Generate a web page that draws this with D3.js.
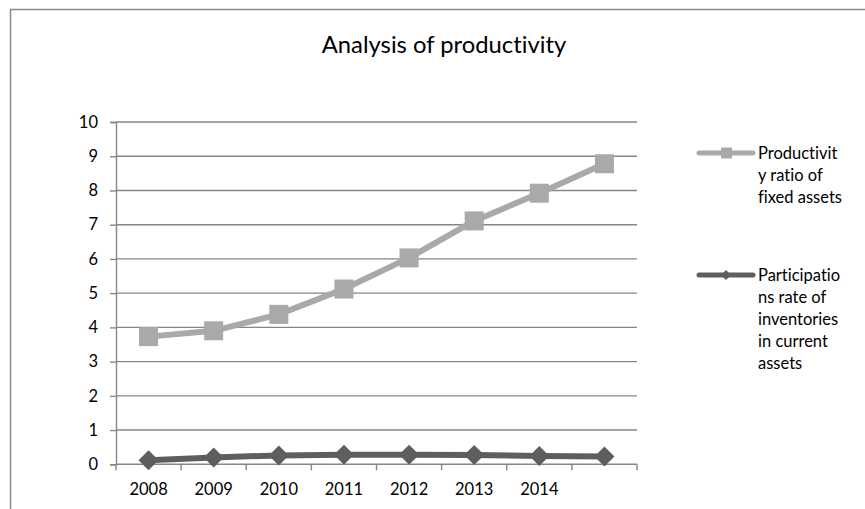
<!DOCTYPE html>
<html lang="en">
<head>
<meta charset="utf-8">
<title>Analysis of productivity</title>
<script src="https://cdn.jsdelivr.net/npm/d3@7"></script>
<style>
  body { margin: 0; background: #fff; }
  svg { display: block; font-family: Lato, "Open Sans", sans-serif; font-variant-ligatures: none; }
</style>
</head>
<body>
<svg id="chart" width="865" height="509"></svg>
<script>
// chart values
var years = ["2008", "2009", "2010", "2011", "2012", "2013", "2014", ""];
var productivity = [3.73, 3.9, 4.38, 5.12, 6.03, 7.11, 7.92, 8.78];
var participation = [0.12, 0.2, 0.26, 0.28, 0.28, 0.27, 0.24, 0.23];
var yTicks = [0, 1, 2, 3, 4, 5, 6, 7, 8, 9, 10];
var seriesNames = [
  ["Productivit", "y ratio of", "fixed assets"],
  ["Participatio", "ns rate of", "inventories", "in current", "assets"]
];

var svg = d3.select("#chart");
var margin = {left: 116, right: 637, top: 122, bottom: 464.3};

// frame (only left and top edges show in the crop)
svg.append("path")
  .attr("d", "M10.5,509 V9.5 H865")
  .attr("fill", "none")
  .attr("stroke", "#8a8a8a")
  .attr("stroke-width", 1.5);

svg.append("text")
  .attr("x", 444).attr("y", 53)
  .attr("text-anchor", "middle")
  .attr("font-size", 23.8)
  .attr("fill", "#000")
  .text("Analysis of productivity");

var x = d3.scaleBand().domain(d3.range(years.length)).range([margin.left, margin.right]);
var y = d3.scaleLinear().domain([0, 10]).range([margin.bottom, margin.top]);

// gridlines
svg.append("g").selectAll("line")
  .data(yTicks.filter(function(d) { return d > 0; }))
  .enter().append("line")
  .attr("x1", margin.left).attr("x2", margin.right)
  .attr("y1", function(d) { return y(d); })
  .attr("y2", function(d) { return y(d); })
  .attr("stroke", "#868686")
  .attr("stroke-width", 1.4);

// y axis
var yAxis = svg.append("g")
  .attr("transform", "translate(" + margin.left + ",0)")
  .call(d3.axisLeft(y).tickValues(yTicks).tickSize(6).tickPadding(12).tickFormat(d3.format("d")));
yAxis.selectAll("line, path").attr("stroke", "#868686").attr("stroke-width", 1.4);
yAxis.selectAll("text").attr("font-size", 16.5).attr("fill", "#000").attr("font-family", "Lato");

// x axis: line, ticks at band edges, labels at band centres
var xg = svg.append("g");
xg.append("line")
  .attr("x1", margin.left).attr("x2", margin.right)
  .attr("y1", y(0)).attr("y2", y(0))
  .attr("stroke", "#868686").attr("stroke-width", 1.4);
var edges = d3.range(years.length).map(function(i) { return x(i); }).concat([margin.right]);
xg.selectAll(".tk").data(edges).enter().append("line")
  .attr("x1", function(d) { return d; }).attr("x2", function(d) { return d; })
  .attr("y1", y(0)).attr("y2", y(0) + 6)
  .attr("stroke", "#868686").attr("stroke-width", 1.4);
xg.selectAll("text").data(years).enter().append("text")
  .attr("x", function(d, i) { return x(i) + x.bandwidth() / 2; })
  .attr("y", 495)
  .attr("text-anchor", "middle")
  .attr("font-size", 16.5)
  .text(function(d) { return d; });

var cx = function(d, i) { return x(i) + x.bandwidth() / 2; };
var line = d3.line().x(cx).y(function(d) { return y(d); });

// light series with squares
svg.append("path").datum(productivity)
  .attr("d", line).attr("fill", "none")
  .attr("stroke", "#a9a9a9").attr("stroke-width", 6).attr("stroke-linejoin", "round");
svg.append("g").selectAll("rect").data(productivity).enter().append("rect")
  .attr("x", function(d, i) { return cx(d, i) - 9.5; })
  .attr("y", function(d) { return y(d) - 9.5; })
  .attr("width", 19).attr("height", 19)
  .attr("fill", "#a9a9a9");

// dark series with diamonds
svg.append("path").datum(participation)
  .attr("d", line).attr("fill", "none")
  .attr("stroke", "#5e5e5e").attr("stroke-width", 6).attr("stroke-linejoin", "round");
svg.append("g").selectAll("path").data(participation).enter().append("path")
  .attr("transform", function(d, i) { return "translate(" + cx(d, i) + "," + y(d) + ")"; })
  .attr("d", "M0,-10 L10,0 L0,10 L-10,0 Z")
  .attr("fill", "#5e5e5e");

// legend
var legend = [
  {color: "#a9a9a9", shape: "square", y: 153},
  {color: "#5e5e5e", shape: "diamond", y: 275}
];
legend.forEach(function(l, k) {
  var g = svg.append("g");
  g.append("line")
    .attr("x1", 699).attr("x2", 753).attr("y1", l.y).attr("y2", l.y)
    .attr("stroke", l.color).attr("stroke-width", 5).attr("stroke-linecap", "round");
  if (l.shape == "square") {
    g.append("rect").attr("x", 721).attr("y", l.y - 5.5).attr("width", 11).attr("height", 11).attr("fill", l.color);
  } else {
    g.append("path").attr("transform", "translate(726," + l.y + ")")
      .attr("d", "M0,-5 L5,0 L0,5 L-5,0 Z").attr("fill", l.color);
  }
  g.selectAll("text").data(seriesNames[k]).enter().append("text")
    .attr("x", 758)
    .attr("y", function(d, i) { return l.y + 6 + i * 22; })
    .attr("font-size", 16.5)
    .text(function(d) { return d; });
});
</script>
</body>
</html>
